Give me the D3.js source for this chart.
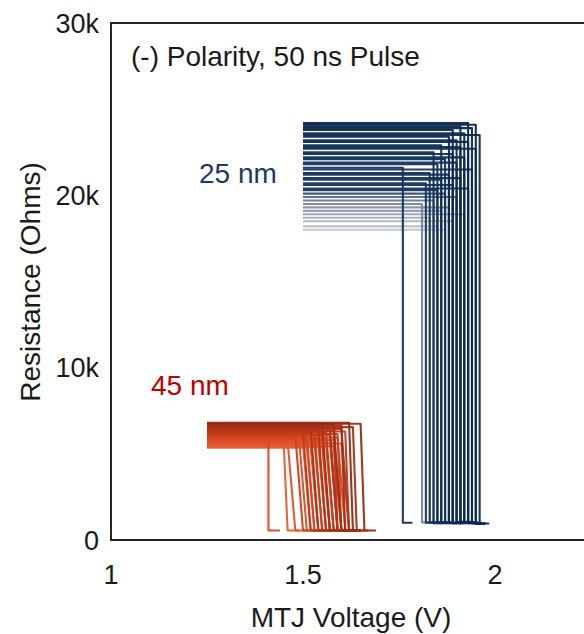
<!DOCTYPE html>
<html>
<head>
<meta charset="utf-8">
<script src="https://cdn.jsdelivr.net/npm/d3@7"></script>
<style>
  body { margin: 0; background: #fff; }
  text { font-family: "Liberation Sans", Arial, sans-serif; }
</style>
</head>
<body>
<div id="chart"></div>
<script>
// 25 nm devices: high-state resistance (kOhm), switching voltage (V), low-state resistance (kOhm)
var r25High = [24.2, 24.1, 24.0, 23.9, 23.8, 23.6, 23.5, 23.4, 23.2, 23.1, 22.9, 22.8, 22.7, 22.5, 22.4, 22.2, 22.1, 21.9, 21.8, 21.6,
               21.5, 21.3, 21.2, 21.0, 20.9, 20.7, 20.6, 20.4, 20.3, 20.1, 19.9, 19.7, 19.5, 19.3, 19.1, 18.9, 18.7, 18.5, 18.2, 18.0];
var v25Sw = [1.93, 1.95, 1.91, 1.94, 1.89, 1.92, 1.96, 1.88, 1.90, 1.93, 1.86, 1.91, 1.95, 1.84, 1.89, 1.92, 1.87, 1.90, 1.85, 1.76,
             1.94, 1.83, 1.88, 1.91, 1.86, 1.82, 1.89, 1.93, 1.85, 1.87, 1.90, 1.84, 1.81, 1.88, 1.86, 1.92, 1.83, 1.89, 1.85, 1.87];
var r25Low = [1.0, 0.95, 1.05, 1.0, 0.98, 1.02, 0.96, 1.0, 1.04, 0.97, 1.0, 1.03, 0.95, 1.0, 0.99, 1.02, 0.97, 1.01, 1.0, 1.0,
              0.96, 1.03, 1.0, 0.98, 1.02, 1.0, 0.97, 1.01, 1.04, 0.99, 1.0, 0.96, 1.02, 1.0, 0.98, 1.03, 1.0, 0.97, 1.01, 1.0];
var v25Start = 1.5;

// 45 nm devices
var r45High = [6.8, 6.75, 6.7, 6.65, 6.6, 6.55, 6.5, 6.5, 6.45, 6.4, 6.35, 6.3, 6.3, 6.25, 6.2, 6.15, 6.1, 6.1, 6.05, 6.0,
               5.95, 5.9, 5.9, 5.85, 5.8, 5.8, 5.75, 5.7, 5.7, 5.65, 5.6, 5.6, 5.55, 5.5, 5.5, 5.45, 5.45, 5.4, 5.4, 5.35];
var v45Top = [1.62, 1.65, 1.58, 1.60, 1.55, 1.63, 1.57, 1.52, 1.60, 1.54, 1.58, 1.50, 1.61, 1.56, 1.53, 1.59, 1.48, 1.57, 1.55, 1.51,
              1.59, 1.41, 1.54, 1.56, 1.49, 1.58, 1.52, 1.55, 1.46, 1.57, 1.53, 1.60, 1.50, 1.56, 1.54, 1.45, 1.58, 1.52, 1.55, 1.51];
var v45Bot = [1.63, 1.66, 1.60, 1.61, 1.57, 1.64, 1.59, 1.54, 1.62, 1.56, 1.59, 1.52, 1.62, 1.58, 1.55, 1.60, 1.50, 1.59, 1.57, 1.53,
              1.61, 1.41, 1.56, 1.58, 1.51, 1.60, 1.54, 1.57, 1.48, 1.59, 1.55, 1.62, 1.52, 1.58, 1.56, 1.46, 1.60, 1.54, 1.57, 1.53];
var r45Low = 0.55;
var v45Start = 1.25;

var xTicks = [1, 1.5, 2];
var yTicks = [0, 10, 20, 30];

var width = 584, height = 634;
var margin = {top: 23, left: 111, bottom: 94};

var svg = d3.select('#chart').append('svg')
  .attr('width', width)
  .attr('height', height);

var x = d3.scaleLinear().domain([1, 2.5]).range([margin.left, margin.left + 576]);
var y = d3.scaleLinear().domain([0, 30]).range([height - margin.bottom, margin.top]);

var line = d3.line()
  .x(function(d) { return x(d[0]); })
  .y(function(d) { return y(d[1]); });

var color25 = d3.scaleLinear()
  .domain([18.0, 19.0, 19.8, 20.3, 24.2])
  .range(['#c2c6cf', '#98a1b3', '#66768f', '#173863', '#0b284e']);
var color45 = d3.scaleLinear()
  .domain([5.35, 6.0, 6.8])
  .range(['#ec6238', '#d24420', '#982812']);

var curves25 = r25High.map(function(r, i) {
  return {r: r, c: color25(r), pts: [[v25Start, r], [v25Sw[i], r], [v25Sw[i], r25Low[i]], [v25Sw[i] + 0.025, r25Low[i]]]};
});
var curves45 = r45High.map(function(r, i) {
  return {r: r, c: color45(r), pts: [[v45Start, r], [v45Top[i], r], [v45Bot[i], r45Low], [v45Bot[i] + 0.03, r45Low]]};
});

// lower curves first so the darker ones sit on top
function draw(curves) {
  curves.slice().sort(function(a, b) { return a.r - b.r; }).forEach(function(c) {
    svg.append('path')
      .attr('d', line(c.pts))
      .attr('fill', 'none')
      .attr('stroke', c.c)
      .attr('stroke-width', 2.1)
      .attr('stroke-linejoin', 'round')
      .attr('stroke-opacity', 0.95);
  });
}
draw(curves45);
draw(curves25);

// frame: left, top, bottom
svg.append('path')
  .attr('d', 'M' + (width + 5) + ',' + y(30) + 'H' + x(1) + 'V' + y(0) + 'H' + (width + 5))
  .attr('fill', 'none')
  .attr('stroke', '#262626')
  .attr('stroke-width', 2);

svg.selectAll('.ytick').data(yTicks).enter().append('text')
  .attr('x', 99)
  .attr('y', function(d) { return y(d); })
  .attr('dy', '0.36em')
  .attr('text-anchor', 'end')
  .attr('font-size', 27)
  .attr('fill', '#1a1a1a')
  .text(function(d) { return d === 0 ? '0' : d + 'k'; });

svg.selectAll('.xtick').data(xTicks).enter().append('text')
  .attr('x', function(d) { return x(d); })
  .attr('y', 584)
  .attr('text-anchor', 'middle')
  .attr('font-size', 27)
  .attr('fill', '#1a1a1a')
  .text(function(d) { return d; });

svg.append('text')
  .attr('x', 351)
  .attr('y', 627)
  .attr('text-anchor', 'middle')
  .attr('font-size', 28)
  .attr('fill', '#1a1a1a')
  .text('MTJ Voltage (V)');

svg.append('text')
  .attr('transform', 'translate(40,282) rotate(-90)')
  .attr('text-anchor', 'middle')
  .attr('font-size', 28)
  .attr('fill', '#1a1a1a')
  .text('Resistance (Ohms)');

svg.append('text')
  .attr('x', 131)
  .attr('y', 66)
  .attr('font-size', 28)
  .attr('fill', '#1a1a1a')
  .text('(-) Polarity, 50 ns Pulse');

svg.append('text')
  .attr('x', 199)
  .attr('y', 183)
  .attr('font-size', 28)
  .attr('fill', '#203864')
  .text('25 nm');

svg.append('text')
  .attr('x', 151)
  .attr('y', 395)
  .attr('font-size', 28)
  .attr('fill', '#c00000')
  .text('45 nm');
</script>
</body>
</html>
